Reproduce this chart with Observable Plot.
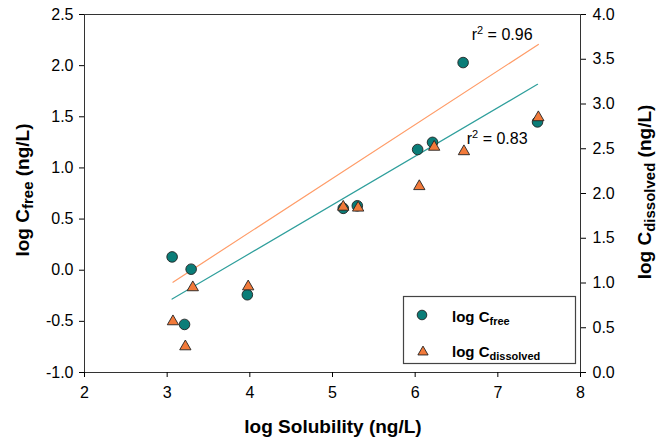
<!DOCTYPE html>
<html>
<head>
<meta charset="utf-8">
<script src="https://cdn.jsdelivr.net/npm/d3@7"></script>
<script src="https://cdn.jsdelivr.net/npm/@observablehq/plot@0.6"></script>
<style>
  html, body { margin: 0; padding: 0; background: #fff; }
  svg text { font-family: "Liberation Sans", Arial, sans-serif; }
</style>
</head>
<body>
<div id="chart"></div>
<script>
// ---- data ----
const solubilityFree = [3.06, 3.29, 3.21, 3.97, 5.13, 5.30, 6.03, 6.21, 6.58, 7.48];
const logCfree       = [0.13, 0.01, -0.53, -0.24, 0.605, 0.63, 1.18, 1.25, 2.03, 1.45];
const solubilityDiss = [3.07, 3.22, 3.31, 3.98, 5.13, 5.31, 6.05, 6.23, 6.59, 7.49];
const logCdissolved  = [0.57, 0.29, 0.95, 0.96, 1.85, 1.84, 2.08, 2.52, 2.47, 2.85];
// reported fit of log C_dissolved vs log Solubility (right axis units)
const dissolvedFit = {slope: 0.601, intercept: -0.836};
const r2Labels = [
  {x: 6.69, y: 2.25, value: "0.96"},
  {x: 6.63, y: 1.23, value: "0.83"}
];
const xTicks = [2, 3, 4, 5, 6, 7, 8];
const leftTicks = [-1.0, -0.5, 0.0, 0.5, 1.0, 1.5, 2.0, 2.5];
const rightTicks = [0.0, 0.5, 1.0, 1.5, 2.0, 2.5, 3.0, 3.5, 4.0];

// ---- right axis (0..4) mapped on left scale (-1..2.5) ----
const toLeft = r => r * 3.5 / 4 - 1;
const toRight = v => (v + 1) * 4 / 3.5;

const freeData = solubilityFree.map((x, i) => ({x, y: logCfree[i]}));
const dissData = solubilityDiss.map((x, i) => ({x, y: logCdissolved[i]}));
const dExt = d3.extent(solubilityDiss);
const dissFitLine = dExt.map(x => ({x, y: toLeft(dissolvedFit.intercept + dissolvedFit.slope * x)}));

const teal = "#0a7d78", tealLine = "#2f9f9c";
const orange = "#f27a3a", orangeLine = "#ff9c68";
const outline = "#222";

const plot = Plot.plot({
  width: 667,
  height: 441,
  marginLeft: 84,
  marginRight: 87,
  marginTop: 14,
  marginBottom: 69,
  style: {fontFamily: "'Liberation Sans', Arial, sans-serif", fontSize: "16px", color: "#000", background: "#fff"},
  x: {domain: [2, 8]},
  y: {domain: [-1, 2.5]},
  marks: [
    Plot.frame({stroke: "#333"}),
    Plot.axisX({ticks: xTicks, tickSize: 5, tickPadding: 9, tickFormat: d => String(d), label: null}),
    Plot.axisY({anchor: "left", ticks: leftTicks, tickSize: 5, tickPadding: 6, tickFormat: d => d.toFixed(1), label: null}),
    Plot.axisY({anchor: "right", ticks: rightTicks.map(toLeft), tickSize: 5, tickPadding: 7,
      tickFormat: v => (Math.round(toRight(v) * 100) / 100).toFixed(1), label: null}),
    Plot.linearRegressionY(freeData, {x: "x", y: "y", stroke: tealLine, strokeWidth: 1.2, ci: 0}),
    Plot.line(dissFitLine, {x: "x", y: "y", stroke: orangeLine, strokeWidth: 1.2}),
    Plot.dot(freeData, {x: "x", y: "y", r: 5.3, fill: teal, stroke: outline, strokeWidth: 0.9}),
    Plot.dot(dissData, {x: "x", y: d => toLeft(d.y), symbol: "triangle", r: 4.2, fill: orange, stroke: outline, strokeWidth: 0.9})
  ]
});

const svg = d3.select(plot);
const xs = plot.scale("x"), ys = plot.scale("y");

// r² annotations
for (const a of r2Labels) {
  const t = svg.append("text")
    .attr("x", xs.apply(a.x)).attr("y", ys.apply(a.y))
    .attr("text-anchor", "start")
    .attr("font-size", 16).attr("fill", "#000");
  t.append("tspan").text("r");
  t.append("tspan").attr("font-size", 11).attr("dy", "-0.55em").text("2");
  t.append("tspan").attr("dy", "0.38em").text(" = " + a.value);
}

// x axis title
svg.append("text")
  .attr("x", 333).attr("y", 433)
  .attr("text-anchor", "middle").attr("font-weight", "bold").attr("font-size", 19)
  .text("log Solubility (ng/L)");

// left axis title
{
  const t = svg.append("text")
    .attr("transform", "translate(29,190) rotate(-90)")
    .attr("text-anchor", "middle").attr("font-weight", "bold").attr("font-size", 19);
  t.append("tspan").text("log C");
  t.append("tspan").attr("font-size", 15).attr("dy", "0.25em").text("free");
  t.append("tspan").attr("dy", "-0.2em").text(" (ng/L)");
}
// right axis title
{
  const t = svg.append("text")
    .attr("transform", "translate(651,192) rotate(-90)")
    .attr("text-anchor", "middle").attr("font-weight", "bold").attr("font-size", 19);
  t.append("tspan").text("log C");
  t.append("tspan").attr("font-size", 15).attr("dy", "0.25em").text("dissolved");
  t.append("tspan").attr("dy", "-0.2em").text(" (ng/L)");
}

// legend
{
  const g = svg.append("g");
  g.append("rect").attr("x", 403.5).attr("y", 296.5).attr("width", 172).attr("height", 67)
    .attr("fill", "#fff").attr("stroke", "#444").attr("stroke-width", 1.2);
  g.append("circle").attr("cx", 422).attr("cy", 315).attr("r", 4.8)
    .attr("fill", teal).attr("stroke", outline).attr("stroke-width", 0.9);
  g.append("path").attr("transform", "translate(423,352)")
    .attr("d", d3.symbol(d3.symbolTriangle, Math.PI * 3.8 * 3.8)())
    .attr("fill", orange).attr("stroke", outline).attr("stroke-width", 0.9);
  const entries = [{y: 322, sub: "free"}, {y: 357, sub: "dissolved"}];
  for (const e of entries) {
    const t = g.append("text").attr("x", 452).attr("y", e.y)
      .attr("text-anchor", "start")
      .attr("font-weight", "bold").attr("font-size", 15).attr("fill", "#000");
    t.append("tspan").text("log C");
    t.append("tspan").attr("font-size", 11).attr("dy", "0.3em").text(e.sub);
  }
}

document.getElementById("chart").appendChild(plot);
</script>
</body>
</html>
